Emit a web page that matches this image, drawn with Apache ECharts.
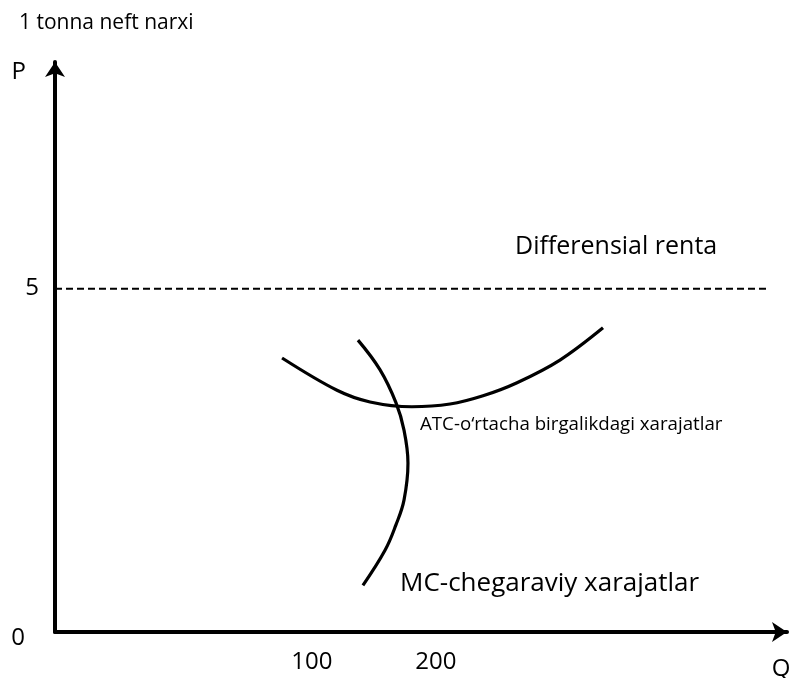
<!DOCTYPE html>
<html>
<head>
<meta charset="utf-8">
<script src="https://cdn.jsdelivr.net/npm/echarts@6/dist/echarts.min.js"></script>
<style>
  html, body { margin: 0; padding: 0; background: #fff; }
  #chart { width: 793px; height: 678px; }
</style>
</head>
<body>
<div id="chart"></div>
<script>
// Oil market: average total cost (ATC), marginal cost (MC) and the price level 5
const qRange = [-107, 483];          // Q axis extent
const pRange = [0, 8.3];             // P axis extent
const qTickValues = [100, 200];
const pTickValues = [0, 5];

const rentPrice = 5;                 // price line giving the differential rent
const rentSpan = [-107, 467];

const atcQ = [76, 120.3, 146.9, 180.7, 211.4, 238, 265.4, 300, 334.7];
const atcP = [3.99, 3.52, 3.35, 3.28, 3.32, 3.44, 3.63, 3.96, 4.43];

const mcQ = [137.2, 154.9, 167.8, 174.3, 177.5, 174.3, 167.8, 159, 141.2];
const mcP = [4.25, 3.82, 3.34, 2.94, 2.46, 1.92, 1.56, 1.19, 0.68];

const FONT = 'Open Sans';
const pairs = (xs, ys) => xs.map((x, i) => [x, ys[i]]);

const chart = echarts.init(document.getElementById('chart'), null, { renderer: 'canvas' });

const axisLine = {
  show: true,
  onZero: false,
  symbol: ['none', 'arrow'],
  symbolSize: [15, 15],
  lineStyle: { color: '#000', width: 4 }
};

chart.setOption({
  animation: false,
  backgroundColor: '#fff',
  title: {
    text: '1 tonna neft narxi',
    left: 14,
    top: 8,
    textStyle: { fontFamily: FONT, fontSize: 21, fontWeight: 'normal', color: '#000' }
  },
  grid: { left: 55, right: 6, top: 62, bottom: 46, outerBoundsMode: 'none', containLabel: false },
  xAxis: {
    type: 'value',
    min: qRange[0],
    max: qRange[1],
    name: 'Q',
    nameLocation: 'end',
    nameGap: -6,
    nameTextStyle: {
      fontFamily: FONT, fontSize: 24, color: '#000',
      align: 'center', verticalAlign: 'top', padding: [25, 0, 0, 0]
    },
    axisLine: axisLine,
    axisTick: { show: false },
    splitLine: { show: false },
    axisLabel: {
      customValues: qTickValues,
      margin: 18,
      fontFamily: FONT, fontSize: 24, color: '#000'
    }
  },
  yAxis: {
    type: 'value',
    min: pRange[0],
    max: pRange[1],
    name: 'P',
    nameLocation: 'end',
    nameGap: -10,
    nameTextStyle: {
      fontFamily: FONT, fontSize: 24, color: '#000',
      align: 'right', verticalAlign: 'middle', padding: [0, 29, 0, 0]
    },
    axisLine: axisLine,
    axisTick: { show: false },
    splitLine: { show: false },
    axisLabel: {
      customValues: pTickValues,
      margin: 16,
      fontFamily: FONT, fontSize: 24, color: '#000',
      formatter: v => (v === 0 ? '{o|0}' : String(v)),
      rich: {
        o: { fontFamily: FONT, fontSize: 24, color: '#000', padding: [13, 14, 0, 0] }
      }
    }
  },
  series: [
    {
      name: 'Differensial renta',
      type: 'line',
      data: rentSpan.map(q => [q, rentPrice]),
      showSymbol: false,
      lineStyle: { color: '#000', width: 2, type: [7, 4] },
      z: 1
    },
    {
      name: 'ATC',
      type: 'line',
      data: pairs(atcQ, atcP),
      smooth: 0.35,
      showSymbol: false,
      lineStyle: { color: '#000', width: 3.2 },
      z: 2
    },
    {
      name: 'MC',
      type: 'line',
      data: pairs(mcQ, mcP),
      smooth: 0.4,
      showSymbol: false,
      lineStyle: { color: '#000', width: 3.2 },
      z: 2
    }
  ],
  graphic: [
    {
      type: 'text', left: 515, top: 247 - 12.5,
      style: { text: 'Differensial renta', font: '25px "Open Sans"', fill: '#000' }
    },
    {
      type: 'text', left: 420, top: 425 - 9.5,
      style: { text: 'ATC-o\u2018rtacha birgalikdagi xarajatlar', font: '18.7px "Open Sans"', fill: '#000' }
    },
    {
      type: 'text', left: 400, top: 584 - 13,
      style: { text: 'MC-chegaraviy xarajatlar', font: '26px "Open Sans"', fill: '#000' }
    }
  ]
});
</script>
</body>
</html>
